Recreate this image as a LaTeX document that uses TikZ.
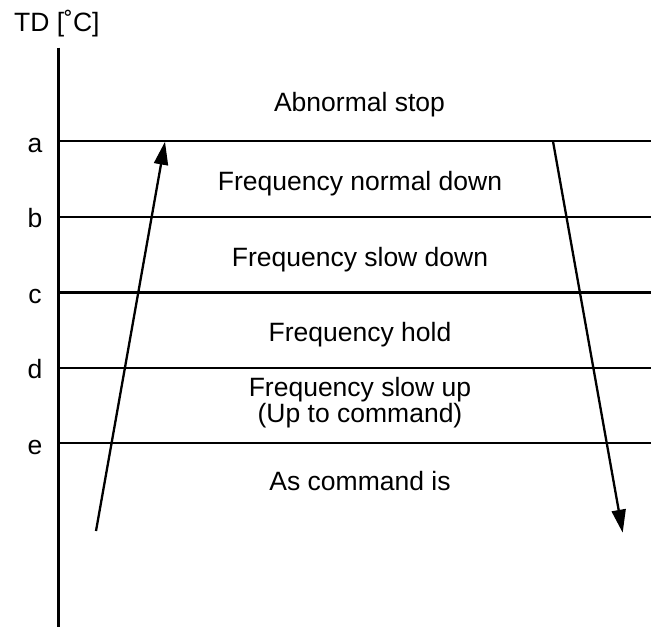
\documentclass[tikz,border=0pt]{standalone}
\usepackage{fontspec}
\setmainfont{Liberation Sans}
\usetikzlibrary{arrows.meta}
\begin{document}
\begin{tikzpicture}[x=1pt, y=-1pt, line width=2.3pt, >={Triangle[length=23pt, width=14pt]},
  font=\fontsize{26.5}{23}\selectfont]
			\def\ax{58.5}
			\useasboundingbox (0,0) rectangle (651,627);
			\node[anchor=base west, inner sep=0] (unit) at (13,31.7) {TD [˚C]};
			\draw (\ax,47.5) coordinate (top) -- (\ax,627) coordinate (bot);
			\foreach \n/\y in {a/141.3,b/216.7,c/292.5,d/368,e/443.3}{
				\draw (\ax,\y) coordinate (\n) -- (651,\y) coordinate (\n r);
				\node[anchor=base, inner sep=0] (lab\n) at (35,\y+10.7) {\n};}
			\node[anchor=base, inner sep=0] (stop) at (359.5,111.7) {Abnormal stop};
			\node[anchor=base, inner sep=0] (ndown) at (360,190) {Frequency normal down};
			\node[anchor=base, inner sep=0] (sdown) at (360,266) {Frequency slow down};
			\node[anchor=base, inner sep=0] (hold) at (360,341.5) {Frequency hold};
			\node[anchor=base, inner sep=0, align=center] (sup) at (360,422.3) {Frequency slow up\\(Up to command)};
			\node[anchor=base, inner sep=0] (asis) at (360,490.7) {As command is};
			\coordinate (rise0) at (96,531);
			\coordinate (rise1) at (165,141.7);
			\coordinate (fall0) at (553,141.3);
			\coordinate (fall1) at (622.7,532.7);
			\draw[->] (rise0) -- (rise1);
			\draw[->] (fall0) -- (fall1);
	\end{tikzpicture}
\end{document}
